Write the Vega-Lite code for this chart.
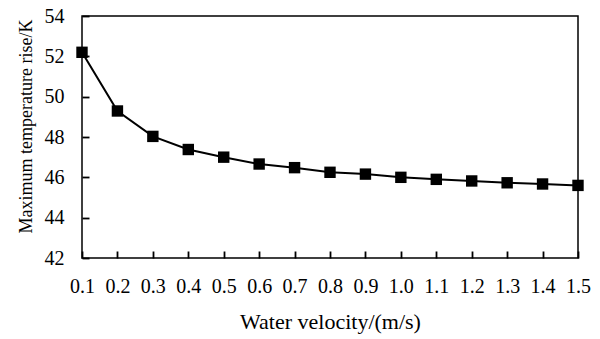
{
  "$schema": "https://vega.github.io/schema/vega-lite/v6.json",
  "width": 496,
  "height": 242,
  "autosize": {"type": "none"},
  "padding": {"left": 82, "top": 16, "right": 22, "bottom": 81},
  "background": "white",
  "config": {
    "view": {"stroke": "black", "strokeWidth": 1.5},
    "axis": {
      "labelFont": "Liberation Serif",
      "titleFont": "Liberation Serif",
      "labelFontSize": 20,
      "titleFontSize": 22,
      "titleFontWeight": "normal",
      "labelColor": "black",
      "titleColor": "black",
      "domain": false,
      "ticks": true,
      "tickColor": "black",
      "tickWidth": 1.8,
      "tickSize": 7,
      "offset": -7,
      "grid": false,
      "labelFlush": false
    }
  },
  "data": {
    "values": [
      {"v": 0.1, "t": 52.2},
      {"v": 0.2, "t": 49.29},
      {"v": 0.3, "t": 48.03},
      {"v": 0.4, "t": 47.38},
      {"v": 0.5, "t": 47.0},
      {"v": 0.6, "t": 46.66},
      {"v": 0.7, "t": 46.48},
      {"v": 0.8, "t": 46.25},
      {"v": 0.9, "t": 46.16},
      {"v": 1.0, "t": 46.0},
      {"v": 1.1, "t": 45.9},
      {"v": 1.2, "t": 45.82},
      {"v": 1.3, "t": 45.73},
      {"v": 1.4, "t": 45.67},
      {"v": 1.5, "t": 45.6}
    ]
  },
  "encoding": {
    "x": {
      "field": "v",
      "type": "quantitative",
      "scale": {"domain": [0.1, 1.5], "nice": false, "zero": false},
      "axis": {
        "title": "Water velocity/(m/s)",
        "values": [0.1, 0.2, 0.3, 0.4, 0.5, 0.6, 0.7, 0.8, 0.9, 1.0, 1.1, 1.2, 1.3, 1.4, 1.5],
        "format": ".1f",
        "labelPadding": 18,
        "titlePadding": 15,
        "labelOverlap": false
      }
    },
    "y": {
      "field": "t",
      "type": "quantitative",
      "scale": {"domain": [42, 54], "nice": false, "zero": false},
      "axis": {
        "title": "Maximum temperature rise/K",
        "titleFontSize": 18,
        "titleY": 110,
        "values": [42, 44, 46, 48, 50, 52, 54],
        "labelPadding": 18,
        "titlePadding": 9,
        "labelOverlap": false
      }
    }
  },
  "layer": [
    {"mark": {"type": "line", "color": "black", "strokeWidth": 2}},
    {"mark": {"type": "square", "color": "black", "filled": true, "opacity": 1, "size": 130}}
  ]
}
